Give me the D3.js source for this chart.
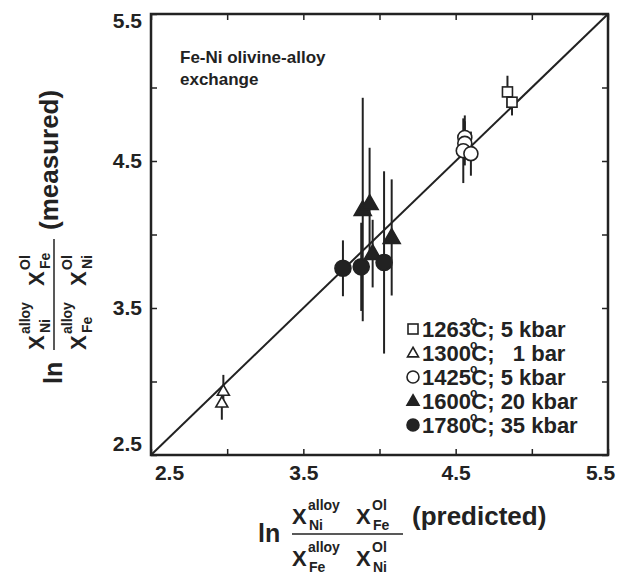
<!DOCTYPE html>
<html>
<head>
    <meta charset="utf-8">
    <script src="https://d3js.org/d3.v7.min.js"></script>
    <style>
        body { margin: 0; background: #fff; }
        text { font-family: "Liberation Sans", Arial, sans-serif; font-weight: bold; fill: #222; }
    </style>
</head>
<body>
    <svg width="622" height="575"></svg>

    <script>
        // series: predicted (x), measured (y), error (+/- in y)
        var seriesNames = ["1263", "1300", "1425", "1600", "1780"];
        var seriesLabels = ["; 5 kbar", ";   1 bar", "; 5 kbar", "; 20 kbar", "; 35 kbar"];
        var seriesShapes = ["square", "triangle", "circle", "triangle", "circle"];
        var seriesFilled = [false, false, false, true, true];

        var x1263 = [4.84, 4.87];
        var y1263 = [4.97, 4.90];
        var e1263 = [0.11, 0.09];

        var x1300 = [2.975, 2.965];
        var y1300 = [2.935, 2.855];
        var e1300 = [0.11, 0.115];

        var x1425 = [4.56, 4.56, 4.55, 4.60];
        var y1425 = [4.66, 4.62, 4.57, 4.55];
        var e1425 = [0.15, 0.15, 0.22, 0.15];

        var x1600 = [3.89, 3.935, 3.955, 4.08];
        var y1600 = [4.17, 4.21, 3.87, 3.98];
        var e1600 = [0.76, 0.38, 0.23, 0.395];

        var x1780 = [3.76, 3.88, 4.03];
        var y1780 = [3.77, 3.78, 3.81];
        var e1780 = [0.19, 0.3, 0.62];

        var tickValues = [2.5, 3.0, 3.5, 4.0, 4.5, 5.0, 5.5];
        var tickLabels = ["2.5", "", "3.5", "", "4.5", "", "5.5"];

        var seriesX = [x1263, x1300, x1425, x1600, x1780];
        var seriesY = [y1263, y1300, y1425, y1600, y1780];
        var seriesE = [e1263, e1300, e1425, e1600, e1780];

        var svg = d3.select("svg");
        var ink = "#222";
        var pL = 151, pR = 608, pT = 14, pB = 455;

        var x = d3.scaleLinear().domain([2.5, 5.5]).range([pL, pR]);
        var y = d3.scaleLinear().domain([2.5, 5.5]).range([pB, pT]);

        function fmt(d) { return tickLabels[tickValues.indexOf(d)]; }

        // axes, ticks pointing inward on all four sides
        var gx = svg.append("g").attr("transform", "translate(0," + pB + ")")
            .call(d3.axisBottom(x).tickValues(tickValues).tickFormat(fmt).tickSize(-6).tickPadding(10));
        var gy = svg.append("g").attr("transform", "translate(" + pL + ",0)")
            .call(d3.axisLeft(y).tickValues(tickValues).tickFormat(fmt).tickSize(-6).tickPadding(9));
        svg.append("g").attr("transform", "translate(0," + pT + ")")
            .call(d3.axisTop(x).tickValues(tickValues).tickFormat("").tickSize(-6));
        svg.append("g").attr("transform", "translate(" + pR + ",0)")
            .call(d3.axisRight(y).tickValues(tickValues).tickFormat("").tickSize(-6));

        svg.selectAll(".domain").remove();
        svg.selectAll(".tick line").attr("stroke", ink).attr("stroke-width", 1.5);
        svg.selectAll(".tick text").attr("font-size", 21).attr("fill", ink)
            .attr("font-family", "Liberation Sans, Arial, sans-serif");

        // nudge end labels inside like the original
        gx.selectAll(".tick text").attr("dx", function(d) { return d === 2.5 ? 18 : d === 5.5 ? -8 : 0; });
        gy.selectAll(".tick text").attr("dy", function(d) { return d === 5.5 ? "0.62em" : d === 2.5 ? "-0.2em" : "0.32em"; });

        svg.append("rect")
            .attr("x", pL).attr("y", pT)
            .attr("width", pR - pL).attr("height", pB - pT)
            .attr("fill", "none").attr("stroke", ink).attr("stroke-width", 2.5);

        // 1:1 line
        svg.append("line")
            .attr("x1", x(2.5)).attr("y1", y(2.5))
            .attr("x2", x(5.5)).attr("y2", y(5.5))
            .attr("stroke", ink).attr("stroke-width", 2);

        svg.append("text").attr("x", 180).attr("y", 63).attr("font-size", 17).text("Fe-Ni olivine-alloy");
        svg.append("text").attr("x", 180).attr("y", 85).attr("font-size", 17).text("exchange");

        function marker(g, shape, filled, cx, cy, s) {
            var fill = filled ? ink : "#fff";
            if (shape === "square") {
                g.append("rect").attr("x", cx - s / 2).attr("y", cy - s / 2)
                    .attr("width", s).attr("height", s)
                    .attr("fill", fill).attr("stroke", ink).attr("stroke-width", 1.6);
            } else if (shape === "triangle") {
                var h = s * 0.87;
                g.append("path")
                    .attr("d", "M" + cx + "," + (cy - h * 0.6) + "L" + (cx + s / 2) + "," + (cy + h * 0.4) +
                        "L" + (cx - s / 2) + "," + (cy + h * 0.4) + "Z")
                    .attr("fill", fill).attr("stroke", ink).attr("stroke-width", 1.6);
            } else {
                g.append("circle").attr("cx", cx).attr("cy", cy).attr("r", s / 2)
                    .attr("fill", fill).attr("stroke", ink).attr("stroke-width", 1.6);
            }
        }

        var dataSize = [10, 12, 14, 17, 16];

        // error bars
        var gErr = svg.append("g");
        seriesX.forEach(function(xs, i) {
            xs.forEach(function(v, j) {
                gErr.append("line")
                    .attr("x1", x(v)).attr("x2", x(v))
                    .attr("y1", y(seriesY[i][j] + seriesE[i][j]))
                    .attr("y2", y(seriesY[i][j] - seriesE[i][j]))
                    .attr("stroke", ink).attr("stroke-width", 2);
            });
        });

        // points
        var gPts = svg.append("g");
        seriesX.forEach(function(xs, i) {
            xs.forEach(function(v, j) {
                marker(gPts, seriesShapes[i], seriesFilled[i], x(v), y(seriesY[i][j]), dataSize[i]);
            });
        });

        // legend
        var legendSize = [10, 11, 12, 12, 12];
        var gLeg = svg.append("g");
        seriesNames.forEach(function(n, i) {
            var cy = 329 + i * 24;
            marker(gLeg, seriesShapes[i], seriesFilled[i], 413, cy, legendSize[i]);
            var t = gLeg.append("text").attr("x", 422).attr("y", cy + 8)
                .attr("font-size", 22).style("white-space", "pre");
            t.append("tspan").text(n);
            t.append("tspan").attr("font-size", 12).attr("dy", -12).attr("dx", -1).text("o");
            t.append("tspan").attr("dy", 12).attr("dx", -6).text("C");
            t.append("tspan").text(seriesLabels[i]);
        });

        // axis titles: ln (X^alloy X^Ol / X^alloy X^Ol) (word)
        function fracLabel(g, top1, top2, bot1, bot2, word, wordDy) {
            g.append("text").attr("x", -34).attr("y", 8).attr("font-size", 25).text("ln");
            function term(px, py, sup, sub) {
                g.append("text").attr("x", px).attr("y", py).attr("font-size", 22).text("X");
                g.append("text").attr("x", px + 16).attr("y", py - 14).attr("font-size", 14).text(sup);
                g.append("text").attr("x", px + 17).attr("y", py + 6).attr("font-size", 14).text(sub);
            }
            term(0, -10, "alloy", top1);
            term(64, -10, "Ol", top2);
            term(0, 32, "alloy", bot1);
            term(64, 32, "Ol", bot2);
            g.append("line").attr("x1", 0).attr("x2", 111).attr("y1", 0).attr("y2", 0)
                .attr("stroke", ink).attr("stroke-width", 1.5);
            g.append("text").attr("x", 120).attr("y", wordDy).attr("font-size", 26).text(word);
        }

        fracLabel(svg.append("g").attr("transform", "translate(292,534)"),
            "Ni", "Fe", "Fe", "Ni", "(predicted)", -9);
        fracLabel(svg.append("g").attr("transform", "translate(54,350) rotate(-90)"),
            "Ni", "Fe", "Fe", "Ni", "(measured)", 4);
    </script>
</body>
</html>
